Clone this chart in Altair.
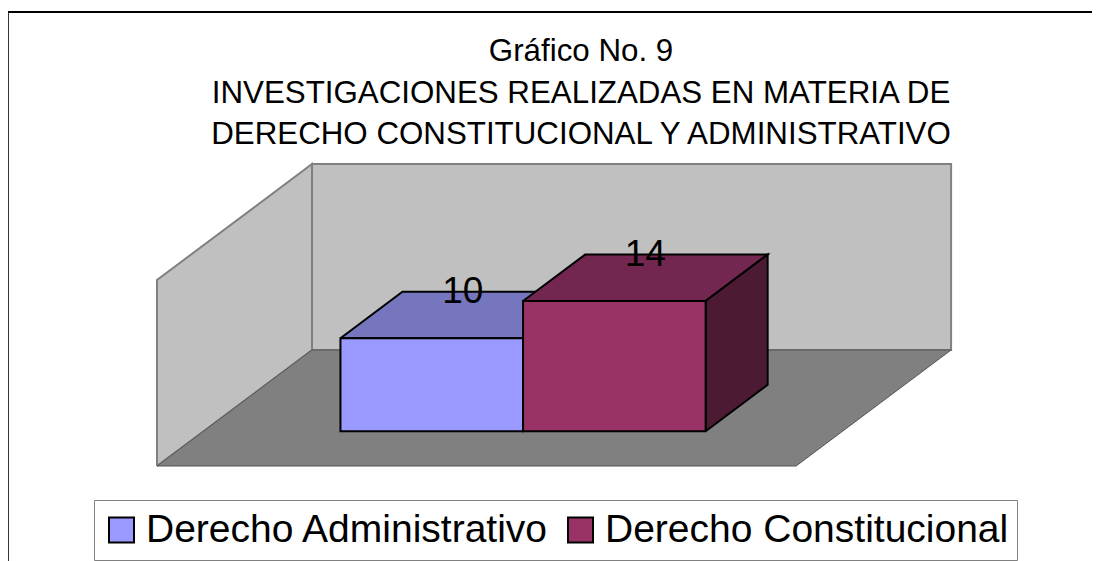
import altair as alt
import pandas as pd

TITLE_LINES = ["Gráfico No. 9",
               "INVESTIGACIONES REALIZADAS EN MATERIA DE",
               "DERECHO CONSTITUCIONAL Y ADMINISTRATIVO"]
CATEGORIES = ["Derecho Administrativo", "Derecho Constitucional"]
VALUES = [10, 14]
AXIS_MAX = 20
FRONT_COLORS = ["#9999FF", "#993366"]
TOP_COLORS = ["#7676BF", "#732650"]
SIDE_COLORS = ["#4D4D80", "#4D1A33"]

# Oblique 3D projection, in chart units (bar slots across, value units up)
SLOT_PX, UNIT_PX = 182.6, 9.3
DEPTH_U, DEPTH_V = 155 / SLOT_PX, 116 / UNIT_PX
GAP_SLOTS = 0.75
N_SLOTS = 2 * GAP_SLOTS + len(VALUES)
Z0, Z1 = 0.3, 0.7

W, H = 1084, 401
PAD_TOP = 152
X_ORIGIN, Y_ORIGIN = 157 - 8, 466 - 160
x_scale = alt.Scale(domain=[-X_ORIGIN / SLOT_PX, (W - X_ORIGIN) / SLOT_PX], nice=False, zero=False)
y_scale = alt.Scale(domain=[(Y_ORIGIN - H) / UNIT_PX, Y_ORIGIN / UNIT_PX], nice=False, zero=False)


def pt(slot, value, z):
    return slot + z * DEPTH_U, value + z * DEPTH_V


def poly(corners, fill, stroke, sw):
    pts = corners + corners[:1]
    df = pd.DataFrame([{"i": i, "u": pt(*c)[0], "v": pt(*c)[1]} for i, c in enumerate(pts)])
    return alt.Chart(df).mark_line(fill=fill, stroke=stroke, strokeWidth=sw, strokeJoin="miter").encode(
        x=alt.X("u:Q", scale=x_scale, axis=None),
        y=alt.Y("v:Q", scale=y_scale, axis=None),
        order="i:Q",
    )


layers = []
# frame
layers.append(alt.Chart(pd.DataFrame({"a": [0]})).mark_rule(color="#333333", strokeWidth=2).encode(
    x=alt.value(0), y=alt.value(12 - 160), y2=alt.value(H)))
layers.append(alt.Chart(pd.DataFrame({"a": [0]})).mark_rule(color="#000000", strokeWidth=2).encode(
    x=alt.value(0), x2=alt.value(W), y=alt.value(12 - 160)))
# walls and floor
layers.append(poly([(0, 0, 0), (0, AXIS_MAX, 0), (0, AXIS_MAX, 1), (0, 0, 1)], "#C0C0C0", "#808080", 2))
layers.append(poly([(0, 0, 1), (0, AXIS_MAX, 1), (N_SLOTS, AXIS_MAX, 1), (N_SLOTS, 0, 1)], "#C0C0C0", "#808080", 2))
layers.append(poly([(0, 0, 0), (N_SLOTS, 0, 0), (N_SLOTS, 0, 1), (0, 0, 1)], "#808080", "#555555", 1))

# bars
rows = []
for k, (cat, val) in enumerate(zip(CATEGORIES, VALUES)):
    s0, s1 = GAP_SLOTS + k, GAP_SLOTS + k + 1
    layers.append(poly([(s0, val, Z0), (s0, val, Z1), (s1, val, Z1), (s1, val, Z0)], TOP_COLORS[k], "#000000", 2))
    layers.append(poly([(s1, 0, Z0), (s1, val, Z0), (s1, val, Z1), (s1, 0, Z1)], SIDE_COLORS[k], "#000000", 2))
    a = pt(s0, 0, Z0)
    b = pt(s1, val, Z0)
    c = pt((s0 + s1) / 2, val, (Z0 + Z1) / 2)
    rows.append({"cat": cat, "val": val, "u0": a[0], "u1": b[0], "v0": a[1], "v1": b[1], "lu": c[0], "lv": c[1]})
    bars = pd.DataFrame(rows[-1:])
    layers.append(alt.Chart(bars).mark_rect(stroke="#000000", strokeWidth=2).encode(
        x=alt.X("u0:Q", scale=x_scale, axis=None),
        x2="u1:Q",
        y=alt.Y("v0:Q", scale=y_scale, axis=None),
        y2="v1:Q",
        fill=alt.Fill("cat:N",
                      scale=alt.Scale(domain=CATEGORIES, range=FRONT_COLORS),
                      legend=alt.Legend(
                          title=None, orient="none", direction="horizontal", columns=2,
                          legendX=94 - 8, legendY=500 - 160,
                          fillColor="#FFFFFF", strokeColor="#808080",
                          padding=8, symbolType="square", symbolSize=625,
                          symbolStrokeColor="#000000", symbolStrokeWidth=2,
                          labelFontSize=39, labelFont="Liberation Sans", labelColor="#000000",
                          labelLimit=500, labelOffset=5, columnPadding=11, clipHeight=44,
                      )),
    ))

labels = pd.DataFrame(rows)
layers.append(alt.Chart(labels).mark_text(font="Liberation Sans", fontSize=37, color="#000000", dy=-23).encode(
    x=alt.X("lu:Q", scale=x_scale, axis=None),
    y=alt.Y("lv:Q", scale=y_scale, axis=None),
    text="val:Q",
))

chart = alt.layer(*layers).properties(
    width=W, height=H,
    padding={"left": 0, "top": PAD_TOP, "right": 0, "bottom": 0},
    autosize=alt.AutoSizeParams(type="none"),
    title=alt.TitleParams(text=TITLE_LINES, font="Liberation Sans", fontSize=31.3, fontWeight="normal",
                          color="#000000", anchor="middle", dx=31, lineHeight=41.5, offset=-4, dy=135.5),
    background="#FFFFFF",
).configure_view(stroke=None)

chart.save("out.html", embed_options={"renderer": "svg", "actions": False})
